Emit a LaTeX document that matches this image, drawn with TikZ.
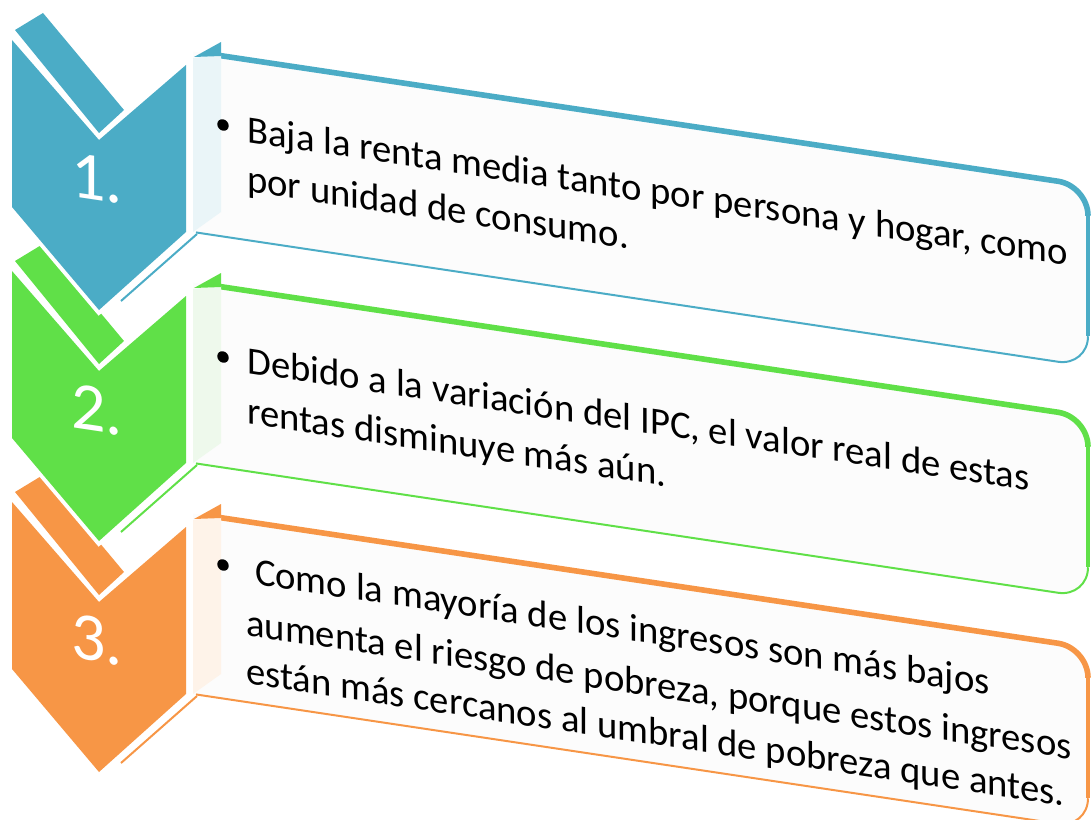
\documentclass[tikz,border=0pt]{standalone}
\usepackage{fontspec}
\setmainfont{Carlito}
\definecolor{cblue}{HTML}{4BACC6}
\definecolor{cgreen}{HTML}{60E048}
\definecolor{corange}{HTML}{F79646}
\definecolor{tblue}{HTML}{EAF5F8}
\definecolor{tgreen}{HTML}{EEF9EC}
\definecolor{torange}{HTML}{FEF3E9}
\definecolor{boxfill}{HTML}{FCFCFC}
\begin{document}
\begin{tikzpicture}[x=0.75pt,y=-0.75pt,
  numtxt/.style={font=\fontsize{51}{60}\selectfont, text=white, inner sep=0pt, yslant=-0.15},
  txtline/.style={font=\fontsize{29}{37.5}\selectfont, anchor=base west, inner sep=0pt, transform shape},
  bulletdot/.style={fill=black}]
\useasboundingbox (0,0) rectangle (1091,820);
% strips
\foreach \k/\c in {0/cblue,1/cgreen,2/corange}{
  \fill[\c, shift={(0,231*\k)}] (15,30) -- (43,13) -- (124,110) -- (99,133) -- cycle;
}
% chevrons
\foreach \k/\c in {0/cblue,1/cgreen,2/corange}{
  \fill[\c, shift={(0,231*\k)}, preaction={draw=white, line width=6pt, line join=miter}]
    (12,40) -- (99,140) -- (186,65) -- (186,232) -- (99,310) -- (12,207) -- cycle;
  \draw[\c, line width=1.5pt, shift={(0,231*\k)}] (197,234) -- (121,301);
}
% boxes
\foreach \k/\c/\t in {0/cblue/tblue,1/cgreen/tgreen,2/corange/torange}{
  \begin{scope}[shift={(193,51.5+231*\k)}, yslant=-0.15]
    \fill[boxfill] (0,0) -- (865,0) .. controls (881.6,0) and (895,13.4) .. (895,30)
      -- (895,150.5) .. controls (895,167.1) and (881.6,180.5) .. (865,180.5) -- (0,180.5) -- cycle;
    \draw[\c, line width=4.2pt] (26,0) -- (865,0) .. controls (881.6,0) and (895,13.4) .. (895,30);
    \draw[\c, line width=2.4pt] (895,28) -- (895,150.5);
    \draw[\c, line width=1.5pt] (895,150.5) .. controls (895,167.1) and (881.6,180.5) .. (865,180.5) -- (3,180.5);
  \end{scope}
  \fill[\t, shift={(0,231*\k)}] (193,58) -- (221,55) -- (221,212) -- (193,232) -- cycle;
  \fill[\c, shift={(0,231*\k)}] (194,57) -- (221,42) -- (221,56) -- cycle;
}
% numbers
\node[numtxt] (n1) at (97,179) {1.};
\node[numtxt] (n2) at (97,410) {2.};
\node[numtxt] (n3) at (97,640) {3.};
% texts
\begin{scope}[shift={(193,51.5)}, yslant=-0.15]
  \fill[bulletdot] (30,69) circle[radius=4.3pt];
  \node[txtline] (t1a) at (54,82.4) {Baja la renta media tanto por persona y hogar, como};
  \node[txtline] (t1b) at (54,132) {por unidad de consumo.};
\end{scope}
\begin{scope}[shift={(193,282.5)}, yslant=-0.15]
  \fill[bulletdot] (30,70) circle[radius=4.3pt];
  \node[txtline] (t2a) at (54,82.4) {Debido a la variación del IPC, el valor real de estas};
  \node[txtline] (t2b) at (54,133) {rentas disminuye más aún.};
\end{scope}
\begin{scope}[shift={(193,514.5)}, yslant=-0.15]
  \fill[bulletdot] (30,46) circle[radius=4.3pt];
  \node[txtline] (t3a) at (53,60.5) {\ Como la mayoría de los ingresos son más bajos};
  \node[txtline] (t3b) at (53,113) {aumenta el riesgo de pobreza, porque estos ingresos};
  \node[txtline] (t3c) at (53,161) {están más cercanos al umbral de pobreza que antes.};
\end{scope}
\end{tikzpicture}
\end{document}
